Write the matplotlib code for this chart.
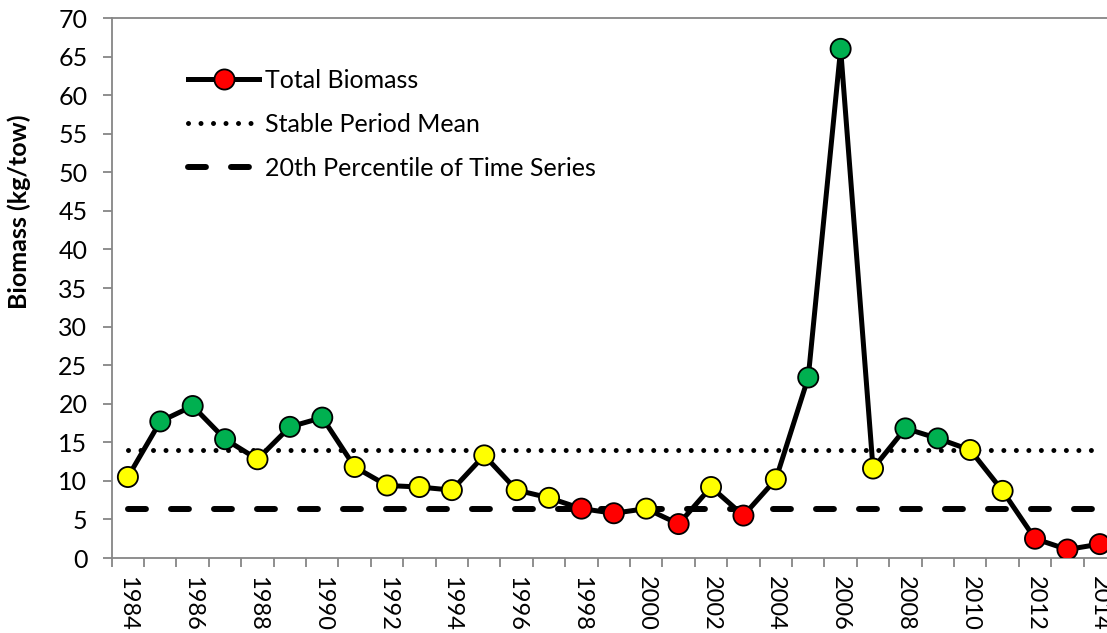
import matplotlib

matplotlib.use("Agg")
import matplotlib.pyplot as plt
from matplotlib.lines import Line2D

plt.rcParams["font.family"] = ["Lato", "DejaVu Sans"]

years = list(range(1984, 2015))
biomass = [10.5, 17.7, 19.7, 15.4, 12.8, 17.0, 18.2, 11.8, 9.4, 9.2,
           8.8, 13.3, 8.8, 7.8, 6.4, 5.8, 6.4, 4.4, 9.2, 5.5,
           10.2, 23.4, 66.0, 11.6, 16.8, 15.5, 14.0, 8.7, 2.5, 1.1, 1.8]
# status of each year relative to the reference points
status = ["mid", "high", "high", "high", "mid", "high", "high", "mid", "mid", "mid",
          "mid", "mid", "mid", "mid", "low", "low", "mid", "low", "mid", "low",
          "mid", "high", "high", "mid", "high", "high", "mid", "mid", "low", "low", "low"]
stable_mean = 14.0
pct20 = 6.4

status_colors = {"high": "#00B050", "mid": "#FFFF00", "low": "#FF0000"}
grey = "#868686"
fs = 18
dotted = (0, (0.001, 2.5))
dashed = (0, (3.0, 4.2))

fig = plt.figure(figsize=(11.07, 6.33), dpi=100)
ax = fig.add_axes([111.7 / 1107, 1 - 558 / 633, (1116 - 111.7) / 1107, 540 / 633])

x = list(range(len(years)))
ax.plot(x, [stable_mean] * len(x), color="black", lw=3.6,
        linestyle=dotted, dash_capstyle="round", zorder=2)
ax.plot(x, [pct20] * len(x), color="black", lw=4.3,
        linestyle=dashed, dash_capstyle="round", zorder=2)
ax.plot(x, biomass, color="black", lw=3.6, zorder=3)
ax.scatter(x, biomass, s=14.5 ** 2, c=[status_colors[s] for s in status],
           edgecolors="black", linewidths=1.3, zorder=4)

ax.set_xlim(-0.5, len(years) - 0.5)
ax.set_ylim(0, 70)
ax.set_yticks(range(0, 71, 5))
ax.set_xticks([i for i, y in enumerate(years) if y % 2 == 0])
ax.set_xticklabels([str(y) for y in years if y % 2 == 0], rotation=270)
ax.set_xticks([i - 0.5 for i in range(len(years) + 1)], minor=True)
ax.tick_params(axis="x", which="major", length=0, pad=13, labelsize=17)
ax.tick_params(axis="x", which="minor", length=6.5, width=1.3, color=grey,
               direction="out")
ax.tick_params(axis="y", length=6.5, width=1.3, color=grey, labelsize=fs, pad=11)
for sp in ax.spines.values():
    sp.set_color(grey)
    sp.set_linewidth(1.3)

ax.set_ylabel("Biomass (kg/tow)", fontsize=fs, fontweight="bold")
ax.yaxis.set_label_coords((31 - 111.7) / 1004, (558 - 212) / 540)

handles = [
    Line2D([], [], color="black", lw=3.6, marker="o", markersize=14.5,
           markerfacecolor="#FF0000", markeredgecolor="black", markeredgewidth=1.3),
    Line2D([], [], color="black", lw=3.6, linestyle=dotted, dash_capstyle="round"),
    Line2D([], [], color="black", lw=4.3, linestyle=dashed, dash_capstyle="round"),
]
labels = ["Total Biomass", "Stable Period Mean", "20th Percentile of Time Series"]
ax.legend(handles, labels, loc="upper left", bbox_to_anchor=(0.066, 0.924),
          frameon=False, fontsize=fs, handlelength=2.85, handletextpad=0.25,
          labelspacing=0.83, borderaxespad=0)

fig.savefig("out.png", dpi=100)
